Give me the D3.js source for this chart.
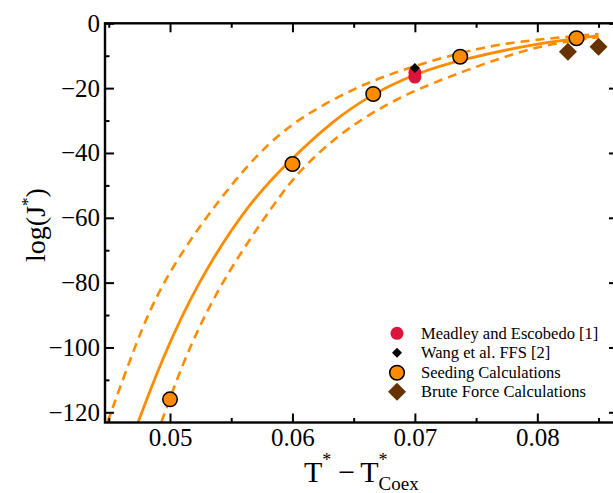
<!DOCTYPE html>
<html>
<head>
<meta charset="utf-8">
<script src="https://cdn.jsdelivr.net/npm/d3@7"></script>
<style>
  body { margin: 0; background: #fff; }
  text { font-family: "Liberation Serif", "Times New Roman", serif; fill: #000; }
</style>
</head>
<body>
<div id="chart"></div>
<script>
// data
var seedX = [0.0500, 0.0600, 0.0666, 0.0737, 0.0832],
    seedY = [-116.0, -43.4, -21.8, -10.3, -4.6];
var meadleyX = [0.0700, 0.0700],
    meadleyY = [-15.2, -16.6];
var wangX = [0.0700],
    wangY = [-13.8];
var bruteX = [0.0825, 0.0850],
    bruteY = [-8.8, -7.2];

// fitted curve and its bounds
var fitX = [0.0474, 0.0493, 0.0522, 0.0565, 0.0598, 0.0633, 0.0666, 0.0700, 0.0737, 0.0802, 0.0850],
    fitY = [-123, -104, -80, -55, -42.2, -30, -21.6, -15.6, -11.2, -6.0, -3.8];
var upperX = [0.0449, 0.0468, 0.0492, 0.0541, 0.0581, 0.0614, 0.0653, 0.0688, 0.0753, 0.0802, 0.0850],
    upperY = [-123, -103, -80, -53.5, -36.3, -27.3, -19.6, -14.4, -7.2, -4.9, -3.3];
var lowerX = [0.0493, 0.0512, 0.0541, 0.0587, 0.0606, 0.0639, 0.0669, 0.0700, 0.0753, 0.0802, 0.0850],
    lowerY = [-123, -103, -80, -54.5, -45.3, -33.9, -26.7, -20.5, -12.9, -6.7, -4.3];

var xTicks = [0.05, 0.06, 0.07, 0.08],
    xMinor = [0.045, 0.055, 0.065, 0.075, 0.085],
    yTicks = [-120, -100, -80, -60, -40, -20, 0],
    yMinor = [-110, -90, -70, -50, -30, -10];

var legendNames = ["Meadley and Escobedo [1]", "Wang et al. FFS [2]", "Seeding Calculations", "Brute Force Calculations"];

var width = 613, height = 493,
    pLeft = 105, pRight = 618, pTop = 23.3, pBottom = 422.5,
    orange = "#ff8c00", red = "#dc143c", brown = "#663300";

var svg = d3.select("#chart").append("svg")
    .attr("width", width)
    .attr("height", height);

var x = d3.scaleLinear().domain([0.04469, 0.08659]).range([pLeft, pRight]);
var y = d3.scaleLinear().domain([-123.15, 0]).range([pBottom, pTop]);

svg.append("clipPath").attr("id", "clip")
  .append("rect")
    .attr("x", pLeft).attr("y", pTop)
    .attr("width", pRight - pLeft).attr("height", pBottom - pTop);

function pairs(xs, ys) {
    return xs.map(function (d, i) { return [d, ys[i]]; });
}

var line = d3.line()
    .x(function (d) { return x(d[0]); })
    .y(function (d) { return y(d[1]); })
    .curve(d3.curveBasis);

var curves = svg.append("g").attr("clip-path", "url(#clip)");

curves.append("path")
    .datum(pairs(upperX, upperY))
    .attr("d", line)
    .attr("fill", "none").attr("stroke", orange).attr("stroke-width", 2.6)
    .attr("stroke-dasharray", "9,6");

curves.append("path")
    .datum(pairs(lowerX, lowerY))
    .attr("d", line)
    .attr("fill", "none").attr("stroke", orange).attr("stroke-width", 2.6)
    .attr("stroke-dasharray", "9,6");

curves.append("path")
    .datum(pairs(fitX, fitY))
    .attr("d", line)
    .attr("fill", "none").attr("stroke", orange).attr("stroke-width", 2.8);

// axes: ticks point inward on all four sides
function noDomain(g) { g.select(".domain").remove(); }

svg.append("g")
    .attr("transform", "translate(0," + pBottom + ")")
    .call(d3.axisBottom(x).tickValues(xTicks).tickSize(-9).tickPadding(6).tickFormat(d3.format(".2f")))
    .call(noDomain)
    .call(function (g) { g.selectAll("text").attr("font-size", 25).attr("font-family", null); });
svg.append("g")
    .attr("transform", "translate(0," + pBottom + ")")
    .call(d3.axisBottom(x).tickValues(xMinor).tickSize(-4.5).tickFormat(""))
    .call(noDomain);
svg.append("g")
    .attr("transform", "translate(0," + pTop + ")")
    .call(d3.axisTop(x).tickValues(xTicks).tickSize(-9).tickFormat(""))
    .call(noDomain);
svg.append("g")
    .attr("transform", "translate(0," + pTop + ")")
    .call(d3.axisTop(x).tickValues(xMinor).tickSize(-4.5).tickFormat(""))
    .call(noDomain);

svg.append("g")
    .attr("transform", "translate(" + pLeft + ",0)")
    .call(d3.axisLeft(y).tickValues(yTicks).tickSize(-9).tickPadding(5).tickFormat(d3.format("d")))
    .call(noDomain)
    .call(function (g) { g.selectAll("text").attr("font-size", 25).attr("font-family", null); });
svg.append("g")
    .attr("transform", "translate(" + pLeft + ",0)")
    .call(d3.axisLeft(y).tickValues(yMinor).tickSize(-4.5).tickFormat(""))
    .call(noDomain);
svg.append("g")
    .attr("transform", "translate(" + pRight + ",0)")
    .call(d3.axisRight(y).tickValues(yTicks).tickSize(-9).tickFormat(""))
    .call(noDomain);
svg.append("g")
    .attr("transform", "translate(" + pRight + ",0)")
    .call(d3.axisRight(y).tickValues(yMinor).tickSize(-4.5).tickFormat(""))
    .call(noDomain);

svg.selectAll(".tick line").attr("stroke", "#000").attr("stroke-width", 2);

svg.append("rect")
    .attr("x", pLeft).attr("y", pTop)
    .attr("width", pRight - pLeft).attr("height", pBottom - pTop)
    .attr("fill", "none").attr("stroke", "#000").attr("stroke-width", 2.4);

// markers
var diamond = function (s) { return "M0," + (-s) + "L" + s + ",0L0," + s + "L" + (-s) + ",0Z"; };

svg.append("g").selectAll("circle")
    .data(pairs(seedX, seedY))
    .enter().append("circle")
    .attr("cx", function (d) { return x(d[0]); })
    .attr("cy", function (d) { return y(d[1]); })
    .attr("r", 7.3)
    .attr("fill", orange).attr("stroke", "#000").attr("stroke-width", 1.5);

svg.append("g").selectAll("path")
    .data(pairs(bruteX, bruteY))
    .enter().append("path")
    .attr("transform", function (d) { return "translate(" + x(d[0]) + "," + y(d[1]) + ")"; })
    .attr("d", diamond(9))
    .attr("fill", brown);

svg.append("g").selectAll("circle")
    .data(pairs(meadleyX, meadleyY))
    .enter().append("circle")
    .attr("cx", function (d) { return x(d[0]); })
    .attr("cy", function (d) { return y(d[1]); })
    .attr("r", 6.5)
    .attr("fill", red);

svg.append("g").selectAll("path")
    .data(pairs(wangX, wangY))
    .enter().append("path")
    .attr("transform", function (d) { return "translate(" + x(d[0]) + "," + y(d[1]) + ")"; })
    .attr("d", diamond(5))
    .attr("fill", "#000");

// legend
var legend = svg.append("g").attr("transform", "translate(397,333.3)");
var rows = legend.selectAll("g")
    .data(legendNames)
    .enter().append("g")
    .attr("transform", function (d, i) { return "translate(0," + [0, 19.4, 39.4, 58.4][i] + ")"; });

rows.each(function (d, i) {
    var g = d3.select(this);
    if (i == 0) g.append("circle").attr("r", 6.5).attr("fill", red);
    if (i == 1) g.append("path").attr("d", diamond(5)).attr("fill", "#000");
    if (i == 2) g.append("circle").attr("r", 7.3).attr("fill", orange).attr("stroke", "#000").attr("stroke-width", 1.5);
    if (i == 3) g.append("path").attr("d", diamond(9)).attr("fill", brown);
});

rows.append("text")
    .attr("x", 24)
    .attr("dy", "0.35em")
    .attr("font-size", 16.5)
    .text(function (d) { return d; });

// axis titles
var xt = svg.append("text")
    .attr("x", 304).attr("y", 482)
    .attr("font-size", 30);
xt.append("tspan").text("T");
xt.append("tspan").attr("dy", -16).attr("font-size", 18).text("*");
xt.append("tspan").attr("dx", 7).attr("dy", 16).text("\u2212");
xt.append("tspan").attr("dx", 5).text("T");
xt.append("tspan").attr("dy", -16).attr("font-size", 18).text("*");
xt.append("tspan").attr("dx", -9).attr("dy", 24).attr("font-size", 19).text("Coex");

var yt = svg.append("text")
    .attr("transform", "translate(45,225) rotate(-90)")
    .attr("text-anchor", "middle")
    .attr("font-size", 28);
yt.append("tspan").text("log(J");
yt.append("tspan").attr("dy", -12).attr("font-size", 17).text("*");
yt.append("tspan").attr("dy", 12).text(")");
</script>
</body>
</html>
